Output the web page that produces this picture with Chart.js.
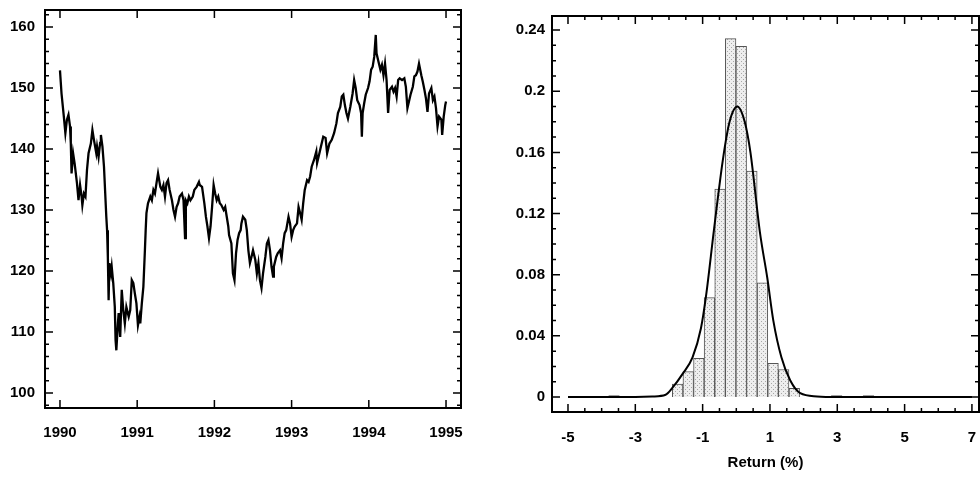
<!DOCTYPE html>
<html>
<head>
<meta charset="utf-8">
<script src="https://cdn.jsdelivr.net/npm/chart.js@4.4.0/dist/chart.umd.min.js"></script>
<style>
  html, body { margin: 0; padding: 0; background: #fff; }
  #wrap { position: relative; width: 980px; height: 484px; overflow: hidden; }
  canvas { position: absolute; top: 0; }
  #priceChart { left: 0; }
  #histChart { left: 500px; }
</style>
</head>
<body>
<div id="wrap">
  <canvas id="priceChart" width="480" height="484"></canvas>
  <canvas id="histChart" width="480" height="484"></canvas>
</div>
<script>
// ---- left panel: price index 1990-1995 ----
const priceYears = [
  1990.00, 1990.02, 1990.05, 1990.07, 1990.09, 1990.11, 1990.13, 1990.14, 1990.15, 1990.17,
  1990.19, 1990.22, 1990.24, 1990.26, 1990.28, 1990.29, 1990.31, 1990.33, 1990.35, 1990.37,
  1990.40, 1990.42, 1990.44, 1990.47, 1990.48, 1990.50, 1990.52, 1990.53, 1990.55, 1990.57,
  1990.60, 1990.61, 1990.62, 1990.63, 1990.64, 1990.66, 1990.67, 1990.69, 1990.71, 1990.72,
  1990.73, 1990.75, 1990.76, 1990.78, 1990.80, 1990.82, 1990.84, 1990.86, 1990.89, 1990.91,
  1990.93, 1990.95, 1990.97, 1990.99, 1991.01, 1991.03, 1991.04, 1991.06, 1991.08, 1991.10,
  1991.11, 1991.12, 1991.14, 1991.17, 1991.19, 1991.21, 1991.23, 1991.25, 1991.27, 1991.30,
  1991.32, 1991.34, 1991.36, 1991.38, 1991.40, 1991.42, 1991.45, 1991.47, 1991.49, 1991.51,
  1991.53, 1991.55, 1991.58, 1991.60, 1991.62, 1991.63, 1991.65, 1991.67, 1991.69, 1991.72,
  1991.74, 1991.77, 1991.80, 1991.81, 1991.84, 1991.87, 1991.89, 1991.91, 1991.93, 1991.95,
  1991.97, 1991.99, 1992.01, 1992.03, 1992.05, 1992.07, 1992.09, 1992.12, 1992.14, 1992.16,
  1992.18, 1992.19, 1992.22, 1992.24, 1992.26, 1992.28, 1992.30, 1992.32, 1992.34, 1992.35,
  1992.37, 1992.40, 1992.42, 1992.44, 1992.46, 1992.48, 1992.50, 1992.53, 1992.55, 1992.57,
  1992.59, 1992.61, 1992.63, 1992.66, 1992.68, 1992.70, 1992.72, 1992.74, 1992.76, 1992.77,
  1992.80, 1992.82, 1992.85, 1992.87, 1992.89, 1992.91, 1992.93, 1992.96, 1992.98, 1993.00,
  1993.02, 1993.04, 1993.07, 1993.09, 1993.11, 1993.13, 1993.15, 1993.17, 1993.20, 1993.22,
  1993.24, 1993.26, 1993.29, 1993.32, 1993.33, 1993.36, 1993.38, 1993.41, 1993.44, 1993.46,
  1993.49, 1993.52, 1993.55, 1993.58, 1993.60, 1993.63, 1993.65, 1993.67, 1993.69, 1993.71,
  1993.73, 1993.76, 1993.79, 1993.81, 1993.83, 1993.85, 1993.88, 1993.90, 1993.91, 1993.92,
  1993.94, 1993.96, 1993.99, 1994.01, 1994.03, 1994.05, 1994.07, 1994.09, 1994.10, 1994.12,
  1994.15, 1994.17, 1994.19, 1994.21, 1994.23, 1994.25, 1994.27, 1994.30, 1994.32, 1994.34,
  1994.36, 1994.38, 1994.40, 1994.43, 1994.46, 1994.48, 1994.50, 1994.52, 1994.54, 1994.57,
  1994.59, 1994.61, 1994.63, 1994.65, 1994.68, 1994.70, 1994.72, 1994.74, 1994.76, 1994.78,
  1994.81, 1994.83, 1994.85, 1994.87, 1994.89, 1994.91, 1994.94, 1994.95, 1994.97, 1994.99,
  1995.00
];
const priceValues = [
  152.9, 149.1, 145.3, 142.6, 144.8, 145.6, 143.7, 141.0, 136.0, 139.3,
  137.6, 134.4, 131.6, 134.1, 132.2, 130.8, 132.7, 132.2, 136.6, 139.3,
  140.9, 143.1, 141.5, 139.3, 140.4, 138.7, 141.0, 142.3, 140.4, 137.1,
  128.9, 126.7, 122.3, 115.2, 121.3, 119.6, 120.7, 118.0, 114.1, 108.7,
  107.0, 111.4, 113.1, 109.2, 116.9, 113.6, 111.4, 114.1, 112.5, 113.6,
  118.5, 118.0, 116.3, 114.7, 111.1, 112.5, 111.4, 114.7, 117.4, 123.4,
  126.7, 129.5, 131.1, 132.2, 131.6, 133.3, 132.7, 134.4, 136.0, 133.8,
  133.3, 134.1, 132.2, 134.4, 134.9, 133.3, 131.6, 130.0, 128.9, 130.5,
  131.1, 132.2, 132.7, 131.6, 125.4, 131.6, 131.1, 132.2, 131.6, 132.2,
  133.3, 133.8, 134.6, 134.1, 133.8, 131.1, 128.9, 127.3, 125.4, 127.3,
  130.5, 134.1, 132.7, 131.6, 132.2, 131.1, 130.8, 130.0, 130.5, 128.9,
  127.3, 125.9, 124.5, 119.6, 118.5, 122.9, 125.1, 126.2, 126.7, 127.8,
  128.9, 128.4, 126.7, 123.4, 121.3, 122.3, 123.4, 121.8, 119.6, 121.3,
  118.5, 117.2, 119.6, 122.3, 124.5, 125.1, 123.4, 120.7, 119.1, 120.7,
  122.3, 122.9, 123.4, 122.1, 124.5, 126.2, 126.7, 128.9, 127.8, 125.6,
  126.7, 127.3, 127.8, 130.5, 129.5, 128.4, 131.1, 133.3, 134.9, 134.6,
  135.5, 137.1, 138.2, 139.6, 137.7, 139.3, 140.4, 142.0, 141.8, 139.3,
  140.9, 141.5, 142.6, 144.2, 145.9, 146.9, 148.6, 148.9, 147.2, 145.9,
  145.0, 146.9, 149.1, 151.3, 150.0, 148.0, 147.2, 145.9, 142.0, 145.9,
  147.5, 148.9, 150.0, 151.1, 153.0, 153.5, 155.1, 158.7, 155.7, 154.6,
  153.0, 153.8, 152.1, 154.0, 151.3, 145.9, 149.7, 150.2, 149.4, 150.0,
  148.6, 151.3, 151.6, 151.3, 151.6, 150.2, 146.7, 147.8, 148.9, 150.2,
  151.9, 152.1, 152.7, 154.0, 152.1, 151.0, 149.7, 148.3, 146.1, 149.1,
  150.0, 148.0, 148.6, 146.7, 143.7, 145.3, 144.8, 142.3, 145.3, 147.2,
  147.8
];
const priceXTicks = [1990, 1991, 1992, 1993, 1994, 1995];
const priceYTicks = [100, 110, 120, 130, 140, 150, 160];

// ---- right panel: histogram of returns with fitted curve ----
const histCenters = [-3.6325, -1.7425, -1.4275, -1.1125, -0.7975, -0.4825, -0.1675, 0.1475,
                     0.4625, 0.7775, 1.0925, 1.4075, 1.7225, 2.9825, 3.9275];
const histFreq    = [0.001, 0.0085, 0.0166, 0.0253, 0.065, 0.136, 0.2344, 0.2294,
                     0.1477, 0.0747, 0.022, 0.018, 0.0057, 0.001, 0.001];
const curveX = [-5, -3, -2.5, -2.1, -1.9, -1.6, -1.3, -1.05, -0.9, -0.66, -0.4, -0.2, 0.03,
                0.25, 0.42, 0.7, 0.92, 1.1, 1.34, 1.6, 1.9, 2.4, 3, 7];
const curveY = [0, 0, 0.0003, 0.0015, 0.006, 0.015, 0.026, 0.045, 0.066, 0.11, 0.155, 0.18, 0.19,
                0.18, 0.16, 0.108, 0.078, 0.05, 0.026, 0.011, 0.0025, 0.0004, 0, 0];
const histXTicks = [-5, -3, -1, 1, 3, 5, 7];
const histYTicks = [0, 0.04, 0.08, 0.12, 0.16, 0.2, 0.24];

Chart.defaults.font.family = "'Liberation Sans', Arial, Helvetica, sans-serif";
Chart.defaults.font.size = 15;
Chart.defaults.font.weight = 'bold';
Chart.defaults.color = '#000';

function range(from, to, step) {
  const out = [];
  for (let v = from; v <= to + step / 1000; v += step) out.push(Math.round(v * 10000) / 10000);
  return out;
}

// frame box + inward tick marks on all four sides
const frameTicks = {
  id: 'frameTicks',
  afterDraw(chart, args, opts) {
    const { ctx, chartArea: a, scales } = chart;
    ctx.save();
    ctx.strokeStyle = '#000';
    ctx.lineWidth = 1.5;
    ctx.beginPath();
    const mark = (vals, len, isX) => {
      vals.forEach(v => {
        if (isX) {
          const px = scales.x.getPixelForValue(v);
          if (px < a.left || px > a.right) return;
          ctx.moveTo(px, a.bottom); ctx.lineTo(px, a.bottom - len);
          ctx.moveTo(px, a.top); ctx.lineTo(px, a.top + len);
        } else {
          const py = scales.y.getPixelForValue(v);
          if (py < a.top || py > a.bottom) return;
          ctx.moveTo(a.left, py); ctx.lineTo(a.left + len, py);
          ctx.moveTo(a.right, py); ctx.lineTo(a.right - len, py);
        }
      });
    };
    mark(opts.xMajor, 8, true);
    mark(opts.xMinor, 4, true);
    mark(opts.yMajor, 8, false);
    mark(opts.yMinor, 4, false);
    ctx.stroke();
    ctx.lineWidth = 2;
    ctx.strokeRect(a.left, a.top, a.right - a.left, a.bottom - a.top);
    ctx.restore();
  }
};

function axisBase(ticks, fmt, pad) {
  return {
    type: 'linear',
    offset: false,
    grid: { display: false, drawTicks: false },
    border: { display: false },
    afterBuildTicks: s => { s.ticks = ticks.map(v => ({ value: v })); },
    ticks: { callback: v => fmt(v), autoSkip: false, maxRotation: 0, padding: pad }
  };
}

// left chart
new Chart(document.getElementById('priceChart'), {
  type: 'line',
  data: {
    datasets: [{
      data: priceYears.map((x, i) => ({ x: x, y: priceValues[i] })),
      borderColor: '#000',
      borderWidth: 2.3,
      pointRadius: 0,
      tension: 0
    }]
  },
  options: {
    responsive: false,
    animation: false,
    layout: { padding: { top: 10, right: 19, left: 0, bottom: 0 } },
    plugins: {
      legend: { display: false },
      tooltip: { enabled: false },
      frameTicks: {
        xMajor: priceXTicks, xMinor: [],
        yMajor: priceYTicks, yMinor: range(98, 162, 2)
      }
    },
    scales: {
      x: Object.assign(axisBase(priceXTicks, v => String(v), 16), {
        min: 1989.806, max: 1995.194,
        afterFit: s => { s.height = 76; s.paddingLeft = 0; s.paddingRight = 0; }
      }),
      y: Object.assign(axisBase(priceYTicks, v => String(v), 10), {
        min: 97.54, max: 162.79,
        afterFit: s => { s.width = 45; s.paddingTop = 0; s.paddingBottom = 0; }
      })
    }
  },
  plugins: [frameTicks]
});

// right chart
const histCanvas = document.getElementById('histChart');
const dots = document.createElement('canvas');
dots.width = 4; dots.height = 4;
const dg = dots.getContext('2d');
dg.fillStyle = '#eeeeee'; dg.fillRect(0, 0, 4, 4);
dg.fillStyle = '#a8a8a8'; dg.fillRect(1, 1, 1, 1); dg.fillRect(3, 3, 1, 1);
const stipple = histCanvas.getContext('2d').createPattern(dots, 'repeat');

new Chart(histCanvas, {
  type: 'bar',
  data: {
    datasets: [{
      type: 'line',
      data: curveX.map((x, i) => ({ x: x, y: curveY[i] })),
      borderColor: '#000',
      borderWidth: 2,
      pointRadius: 0,
      cubicInterpolationMode: 'monotone',
      order: 0
    }, {
      type: 'bar',
      data: histCenters.map((x, i) => ({ x: x, y: histFreq[i] })),
      backgroundColor: stipple,
      borderColor: '#555',
      borderWidth: 1,
      barPercentage: 1,
      categoryPercentage: 1,
      order: 1
    }]
  },
  options: {
    responsive: false,
    animation: false,
    layout: { padding: { top: 16, right: 1, left: 0, bottom: 0 } },
    plugins: {
      legend: { display: false },
      tooltip: { enabled: false },
      frameTicks: {
        xMajor: histXTicks, xMinor: range(-5.5, 7.5, 0.5),
        yMajor: histYTicks, yMinor: range(-0.01, 0.25, 0.01)
      }
    },
    scales: {
      x: Object.assign(axisBase(histXTicks, v => String(v), 17), {
        min: -5.475, max: 7.21,
        title: { display: true, text: 'Return (%)', font: { size: 15, weight: 'bold' }, padding: { top: 0, bottom: 12 } },
        afterFit: s => { s.height = 72; s.paddingLeft = 0; s.paddingRight = 0; }
      }),
      y: Object.assign(axisBase(histYTicks, v => String(v), 7), {
        min: -0.0098, max: 0.2492,
        afterFit: s => { s.width = 52; s.paddingTop = 0; s.paddingBottom = 0; }
      })
    }
  },
  plugins: [frameTicks]
});
</script>
</body>
</html>
